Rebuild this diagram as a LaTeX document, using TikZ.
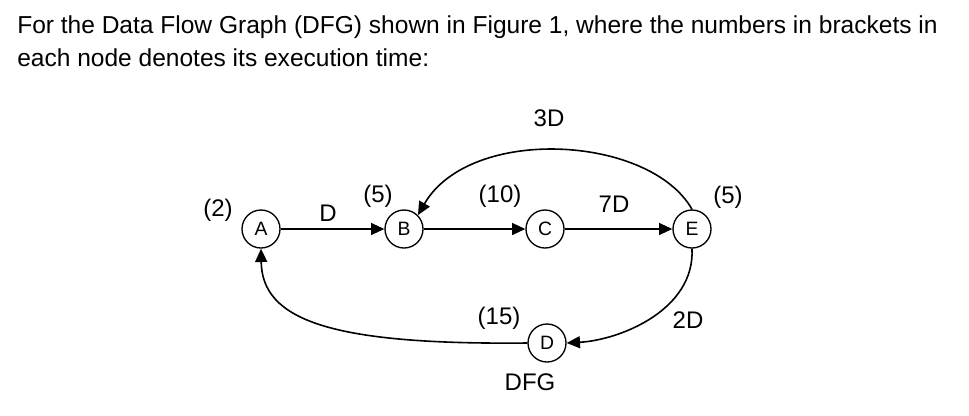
\documentclass[tikz,border=0pt]{standalone}
\usepackage{fontspec}
\setmainfont{Liberation Sans}
\usetikzlibrary{arrows.meta}
\begin{document}
\begin{tikzpicture}[x=0.75pt,y=-0.75pt,
  vtx/.style={circle,draw,line width=1pt,minimum size=28.5pt,inner sep=0pt,font=\fontsize{14.5}{16}\selectfont},
  lbl/.style={font=\fontsize{18}{20}\selectfont,inner sep=0pt},
  edge/.style={line width=1.2pt,-{Triangle[length=10pt,width=9pt]}}]
\useasboundingbox (0,0) rectangle (969,415);
\node[anchor=west,inner sep=0pt,font=\fontsize{18.4}{21}\selectfont] (t1) at (17,27) {For the Data Flow Graph (DFG) shown in Figure 1, where the numbers in brackets in};
\node[anchor=west,inner sep=0pt,font=\fontsize{18.4}{21}\selectfont] (t2) at (17,58) {each node denotes its execution time:};
\node[vtx] (A) at (261,229) {A};
\node[vtx] (B) at (404,229) {B};
\node[vtx] (C) at (545,229) {C};
\node[vtx] (E) at (692,229) {E};
\node[vtx] (D) at (547,343) {D};
\draw[edge] (A) -- (B);
\draw[edge] (B) -- (C);
\draw[edge] (C) -- (E);
\draw[edge] (E.north) .. controls (650,135) and (470,125) .. (B.north east);
\draw[edge] (E.south) .. controls (695,310) and (620,340) .. (D.east);
\draw[edge] (D.west) .. controls (330,345) and (262,320) .. (A.south);
\node[lbl] (lA) at (218,210) {(2)};
\node[lbl] (lD) at (328,213) {D};
\node[lbl] (lB) at (378,196) {(5)};
\node[lbl] (lC) at (500,196) {(10)};
\node[lbl] (l7) at (614,204) {7D};
\node[lbl] (lE) at (728,197) {(5)};
\node[lbl] (l3) at (549,118) {3D};
\node[lbl] (l2) at (688,320) {2D};
\node[lbl] (l15) at (499,318) {(15)};
\node[lbl] (dfg) at (530,382) {DFG};
\end{tikzpicture}
\end{document}
